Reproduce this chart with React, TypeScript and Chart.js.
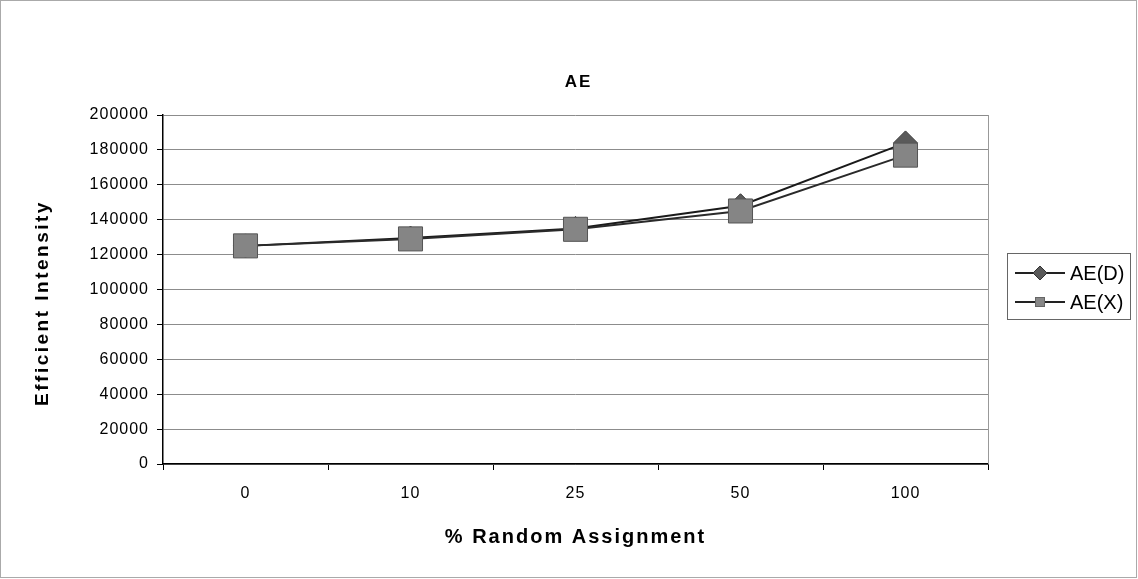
import React, { useEffect, useRef } from "react";
import { Chart, registerables } from "chart.js";

Chart.register(...registerables);

const chartTitle = "AE";
const categories = ["0", "10", "25", "50", "100"];
const seriesNames = ["AE(D)", "AE(X)"];
const aeD = [125000, 129500, 135000, 148000, 184000];
const aeX = [125000, 129000, 134500, 145000, 177000];
const yMin = 0;
const yMax = 200000;
const yStep = 20000;
const xTitle = "% Random Assignment";
const yTitle = "Efficient Intensity";

const FONT = "'Liberation Sans', Arial, sans-serif";

function drawDiamond(ctx: CanvasRenderingContext2D, x: number, y: number, r: number, fill: string, stroke: string) {
  ctx.beginPath();
  ctx.moveTo(x, y - r);
  ctx.lineTo(x + r, y);
  ctx.lineTo(x, y + r);
  ctx.lineTo(x - r, y);
  ctx.closePath();
  ctx.fillStyle = fill;
  ctx.fill();
  ctx.strokeStyle = stroke;
  ctx.lineWidth = 1;
  ctx.stroke();
}

const decorPlugin = {
  id: "decor",
  beforeDraw(chart: any) {
    const ctx = chart.ctx as any;
    ctx.letterSpacing = "1px";
  },
  afterDraw(chart: any) {
    const ctx = chart.ctx as any;
    const area = chart.chartArea;
    ctx.save();
    // plot area right border
    ctx.strokeStyle = "#999";
    ctx.lineWidth = 1;
    ctx.beginPath();
    ctx.moveTo(Math.round(area.right) + 0.5, area.top);
    ctx.lineTo(Math.round(area.right) + 0.5, area.bottom);
    ctx.stroke();
    // outer border
    ctx.strokeStyle = "#aaa";
    ctx.strokeRect(0.5, 0.5, chart.width - 2, chart.height - 2);

    // chart title
    ctx.fillStyle = "#000";
    ctx.textAlign = "center";
    ctx.textBaseline = "middle";
    ctx.letterSpacing = "2px";
    ctx.font = `bold 17px ${FONT}`;
    ctx.fillText(chartTitle, (area.left + area.right) / 2 + 3, 82);

    // x title
    ctx.letterSpacing = "2px";
    ctx.font = `bold 20px ${FONT}`;
    ctx.fillText(xTitle, (area.left + area.right) / 2, 537);

    // y title
    ctx.save();
    ctx.translate(43, 303);
    ctx.rotate(-Math.PI / 2);
    ctx.letterSpacing = "2.5px";
    ctx.font = `bold 19px ${FONT}`;
    ctx.fillText(yTitle, 0, 0);
    ctx.restore();

    // legend
    const lx = 1007;
    const ly = 253;
    ctx.letterSpacing = "0px";
    ctx.strokeStyle = "#666";
    ctx.lineWidth = 1;
    ctx.strokeRect(lx + 0.5, ly + 0.5, 123, 66);
    const rows = [273, 302];
    rows.forEach((ry, i) => {
      ctx.strokeStyle = "#222";
      ctx.lineWidth = 2;
      ctx.beginPath();
      ctx.moveTo(lx + 8, ry);
      ctx.lineTo(lx + 58, ry);
      ctx.stroke();
      if (i === 0) {
        drawDiamond(ctx, lx + 33, ry, 7, "#5a5a5a", "#333");
      } else {
        ctx.fillStyle = "#888";
        ctx.fillRect(lx + 28, ry - 5, 10, 10);
        ctx.strokeStyle = "#666";
        ctx.lineWidth = 1;
        ctx.strokeRect(lx + 28.5, ry - 4.5, 9, 9);
      }
      ctx.fillStyle = "#000";
      ctx.textAlign = "left";
      ctx.textBaseline = "middle";
      ctx.font = `20px ${FONT}`;
      ctx.fillText(seriesNames[i], lx + 63, ry + 1);
    });
    ctx.restore();
  },
};

export default function App() {
  const ref = useRef<HTMLCanvasElement | null>(null);

  useEffect(() => {
    document.body.style.margin = "0";
    const canvas = ref.current;
    if (!canvas) return;
    const chart = new Chart(canvas, {
      type: "line",
      data: {
        labels: categories,
        datasets: [
          {
            label: seriesNames[0],
            data: aeD,
            borderColor: "#1a1a1a",
            borderWidth: 2,
            backgroundColor: "#5a5a5a",
            pointStyle: "rectRot",
            pointRadius: 12,
            pointBorderColor: "#333",
            pointBorderWidth: 1,
            pointBackgroundColor: "#5a5a5a",
            tension: 0,
            order: 2,
          },
          {
            label: seriesNames[1],
            data: aeX,
            borderColor: "#2a2a2a",
            borderWidth: 2,
            backgroundColor: "#858585",
            pointStyle: "rect",
            pointRadius: 17,
            pointBorderColor: "#555",
            pointBorderWidth: 1,
            pointBackgroundColor: "#858585",
            tension: 0,
            order: 1,
          },
        ],
      },
      options: {
        animation: false,
        responsive: false,
        events: [],
        layout: { padding: { left: 0, right: 150, top: 115, bottom: 0 } },
        plugins: {
          legend: { display: false },
          title: { display: false },
          tooltip: { enabled: false },
        },
        scales: {
          x: {
            type: "category",
            offset: true,
            afterFit: (s: any) => {
              s.height = 115;
            },
            grid: {
              display: true,
              drawOnChartArea: false,
              drawTicks: true,
              tickLength: 6,
              tickColor: "#000",
              offset: true,
            },
            border: { display: true, color: "#000", width: 1.5 },
            ticks: {
              color: "#000",
              font: { family: FONT, size: 16 },
              padding: 14,
              maxRotation: 0,
            },
          },
          y: {
            min: yMin,
            max: yMax,
            afterFit: (s: any) => {
              s.width = 163;
            },
            grid: {
              color: "#8c8c8c",
              lineWidth: 1,
              drawTicks: true,
              tickLength: 6,
              tickColor: "#000",
            },
            border: { display: true, color: "#000", width: 1.5 },
            ticks: {
              stepSize: yStep,
              color: "#000",
              font: { family: FONT, size: 16 },
              padding: 8,
              callback: (v: any) => String(v),
            },
          },
        },
      },
      plugins: [decorPlugin],
    });
    return () => chart.destroy();
  }, []);

  return (
    <div style={{ width: 1138, height: 579, background: "#fff" }}>
      <canvas ref={ref} width={1138} height={579} style={{ display: "block" }} />
    </div>
  );
}
